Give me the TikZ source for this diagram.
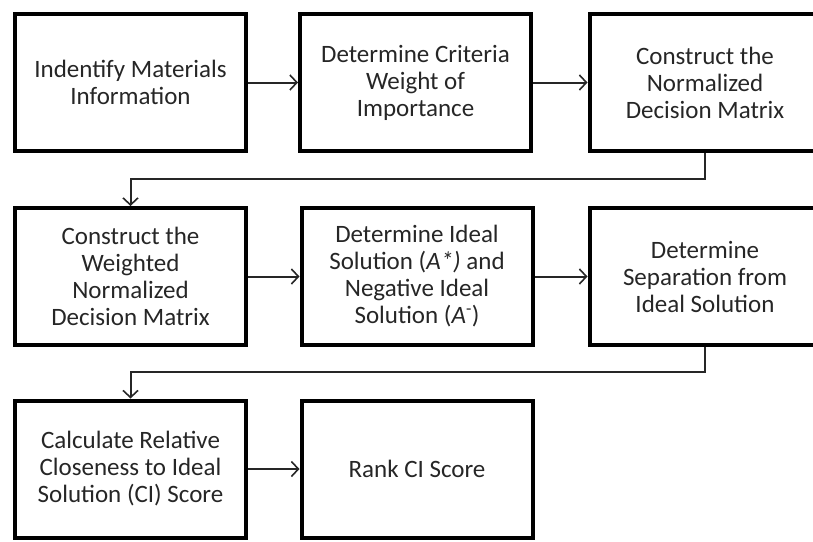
\documentclass[tikz,border=0pt]{standalone}
\usepackage{fontspec}
\setmainfont{Carlito}
\usetikzlibrary{arrows.meta}
\definecolor{txt}{HTML}{262626}
\tikzset{
  stepbox/.style={draw=black, line width=4pt, minimum width=231pt, minimum height=137pt,
    align=center, text=txt, font=\fontsize{25}{27}\selectfont, inner sep=0pt},
  conn/.style={draw=black!85, line width=2pt, -{Straight Barb[length=7pt,width=15pt,line width=1.6pt]}},
}
\begin{document}
\begin{tikzpicture}[x=1pt,y=-1pt]
\useasboundingbox (0,0) rectangle (813,541);
\clip (0,0) rectangle (813,541);
\node[stepbox] (b1) at (130.5,82.5) {Indentify Materials\\Information};
\node[stepbox] (b2) at (415.5,82.5) {Determine Criteria\\Weight of\\Importance};
\node[stepbox] (b3) at (705,82.5) {Construct the\\Normalized\\Decision Matrix};
\node[stepbox] (b4) at (130.5,276.5) {Construct the\\Weighted\\Normalized\\Decision Matrix};
\node[stepbox] (b5) at (417,276.5) {Determine Ideal\\Solution (\textit{A*)} and\\Negative Ideal\\Solution (\textit{A}\textsuperscript{-})};
\node[stepbox] (b6) at (705,276.5) {Determine\\Separation from\\Ideal Solution};
\node[stepbox] (b7) at (130.5,469) {Calculate Relative\\Closeness to Ideal\\Solution (CI) Score};
\node[stepbox] (b8) at (417,469) {Rank CI Score};
\coordinate (t1) at (705,179);
\coordinate (t2) at (705,372);
\draw[conn] (b1) -- (b2);
\draw[conn] (b2) -- (b3);
\draw[conn] (b3.south) -- (t1) -| (b4.north);
\draw[conn] (b4) -- (b5);
\draw[conn] (b5) -- (b6);
\draw[conn] (b6.south) -- (t2) -| (b7.north);
\draw[conn] (b7) -- (b8);
\end{tikzpicture}
\end{document}
